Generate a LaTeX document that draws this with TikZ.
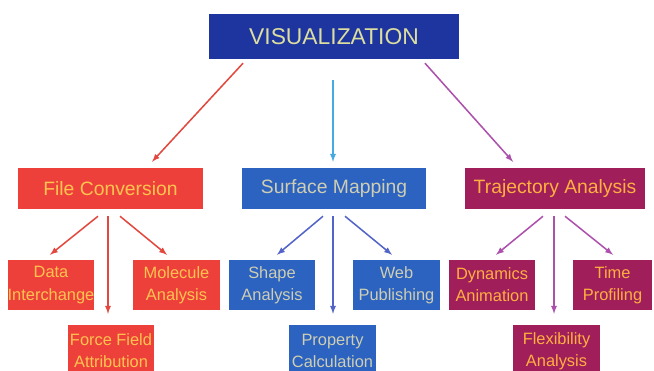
\documentclass[tikz,border=0pt]{standalone}
\usepackage{fontspec}
\setmainfont{Liberation Sans}
\usepackage{tikz}
\usetikzlibrary{positioning, shapes.geometric, arrows}
\usepackage{xcolor}
\definecolor{visfill}{RGB}{30,52,158}
\definecolor{vistext}{RGB}{220,222,160}
\definecolor{convfill}{RGB}{238,64,58}
\definecolor{convtext}{RGB}{255,196,80}
\definecolor{surffill}{RGB}{44,98,192}
\definecolor{surftext}{RGB}{206,206,178}
\definecolor{trajfill}{RGB}{160,30,90}
\definecolor{trajtext}{RGB}{255,176,64}
\definecolor{convline}{RGB}{226,72,62}
\definecolor{surfline}{RGB}{70,170,226}
\definecolor{surfsub}{RGB}{82,100,200}
\definecolor{trajline}{RGB}{172,80,172}

\begin{document}
\begin{tikzpicture}[x=0.03cm, y=-0.03cm,
    box/.style={inner sep=0pt, align=center},
    topbox/.style={box, fill=visfill, text=vistext, minimum width=7.5cm, minimum height=1.35cm, font=\fontsize{19.5}{22}\selectfont},
    midbox/.style={box, minimum height=1.23cm, font=\fontsize{16.5}{19}\selectfont},
    subbox/.style={box, minimum width=2.6cm, minimum height=1.5cm, font=\fontsize{14}{19}\selectfont},
    link/.style={-latex, line width=1.3pt}]
    \useasboundingbox (0,0) rectangle (654,371);
    \node[topbox] (vis) at (334,36.5) {VISUALIZATION};
    \node[midbox, fill=convfill, text=convtext, minimum width=5.55cm] (conv) at (110.5,188.5) {File Conversion};
    \node[midbox, fill=surffill, text=surftext, minimum width=5.52cm] (surf) at (334,188.5) {Surface Mapping};
    \node[midbox, fill=trajfill, text=trajtext, minimum width=5.4cm] (traj) at (555,188.5) {Trajectory Analysis};
    \node[subbox, fill=convfill, text=convtext] (data) at (51,285) {Data\\Interchange};
    \node[subbox, fill=convfill, text=convtext] (mol) at (176.5,285) {Molecule\\Analysis};
    \node[subbox, fill=surffill, text=surftext] (shape) at (272,285) {Shape\\Analysis};
    \node[subbox, fill=surffill, text=surftext] (web) at (396.5,285) {Web\\Publishing};
    \node[subbox, fill=trajfill, text=trajtext] (dyn) at (492,285) {Dynamics\\Animation};
    \node[subbox, fill=trajfill, text=trajtext, minimum width=2.37cm] (time) at (612.5,285) {Time\\Profiling};
    \node[subbox, fill=convfill, text=convtext, minimum height=1.56cm] (force) at (111,351) {Force Field\\Attribution};
    \node[subbox, fill=surffill, text=surftext, minimum height=1.56cm] (prop) at (332.5,351) {Property\\Calculation};
    \node[subbox, fill=trajfill, text=trajtext, minimum height=1.56cm] (flex) at (556.5,351) {Flexibility\\Analysis};
    \draw[link, convline] ([shift={(-91,4)}]vis.south) -- ([shift={(41.5,-6)}]conv.north);
    \draw[link, surfline] ([shift={(-1,21)}]vis.south) -- ([shift={(-1,-6)}]surf.north);
    \draw[link, trajline] ([shift={(91,4)}]vis.south) -- ([shift={(-42,-6)}]traj.north);
    \draw[link, convline] ([shift={(-12.5,7)}]conv.south) -- ([shift={(-1,-5)}]data.north);
    \draw[link, convline] ([shift={(-2.5,7)}]conv.south) -- ([shift={(-3,-11)}]force.north);
    \draw[link, convline] ([shift={(9.5,7)}]conv.south) -- ([shift={(-9.5,-5)}]mol.north);
    \draw[link, surfsub] ([shift={(-11,7)}]surf.south) -- ([shift={(5,-5)}]shape.north);
    \draw[link, surfsub] ([shift={(-1,7)}]surf.south) -- ([shift={(0.5,-11)}]prop.north);
    \draw[link, surfsub] ([shift={(11,7)}]surf.south) -- ([shift={(-4.5,-5)}]web.north);
    \draw[link, trajline] ([shift={(-12,7)}]traj.south) -- ([shift={(4,-5)}]dyn.north);
    \draw[link, trajline] ([shift={(-1,7)}]traj.south) -- ([shift={(-2.5,-11)}]flex.north);
    \draw[link, trajline] ([shift={(10,7)}]traj.south) -- ([shift={(0.5,-5)}]time.north);
\end{tikzpicture}
\end{document}
